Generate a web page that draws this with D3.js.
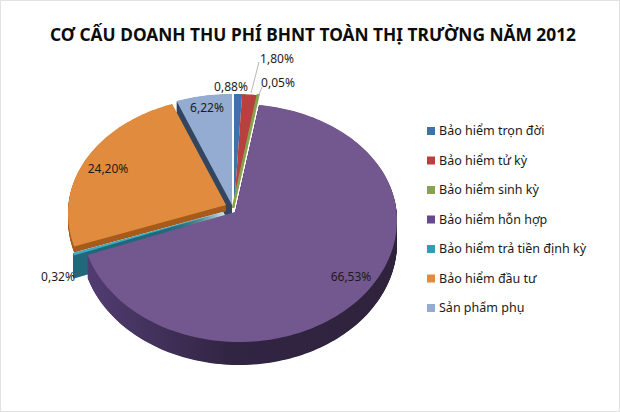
<!DOCTYPE html>
<html>
<head>
<meta charset="utf-8">
<script src="https://cdn.jsdelivr.net/npm/d3@7"></script>
<style>
  html, body { margin: 0; padding: 0; background: #fff; }
  svg { display: block; }
</style>
</head>
<body>
<div id="chart"></div>
<script>
// Data arrays
let categories = ["Bảo hiểm trọn đời", "Bảo hiểm tử kỳ", "Bảo hiểm sinh kỳ", "Bảo hiểm hỗn hợp",
  "Bảo hiểm trả tiền định kỳ", "Bảo hiểm đầu tư", "Sản phẩm phụ"];
let values = [0.88, 1.80, 0.05, 66.53, 0.32, 24.20, 6.22];
let valueLabels = ["0,88%", "1,80%", "0,05%", "66,53%", "0,32%", "24,20%", "6,22%"];
let titleText = "CƠ CẤU DOANH THU PHÍ BHNT TOÀN THỊ TRƯỜNG NĂM 2012";

// Colours
let topColors = ["#3f72ab", "#b8413f", "#87a34e", "#73578f", "#3fa9c0", "#e08b3d", "#94abd2"];
let wallColors = ["#2c4f77", "#80302e", "#5f7336", "url(#purpleWall)", "#22697c", "#a65b1d", "#34465f"];
let legendColors = ["#3f72ab", "#b8413f", "#87a34e", "#654a8c", "#2f9db5", "#e08b3d", "#94abd2"];

// Layout of the exploded 3d pie, one entry per slice: apex of the wedge,
// centre of its rim ellipse and the height of its side wall
let apexX = [234, 234, 233, 235, 230, 226, 232];
let apexY = [208, 208, 208, 212, 210, 205, 205];
let rimX = [236, 236, 236, 239, 223, 226, 231];
let rimY = [210, 210, 210, 220, 215, 213, 210];
let wallDepth = [0, 0, 0, 23, 23, 6, 23];
let rx = 158, ryBack = 116, ryFront = 122;
let drawOrder = [6, 0, 1, 2, 5, 4, 3];

// Where the value labels sit
let labelX = [231, 277, 278, 351, 58, 108, 207];
let labelY = [87, 59, 83, 277, 277, 169, 108];

let width = 620, height = 412;

let svg = d3.select("#chart")
  .append("svg")
  .attr("width", width)
  .attr("height", height);

svg.append("rect")
  .attr("x", 0.5).attr("y", 0.5)
  .attr("width", width - 1).attr("height", height - 1)
  .attr("fill", "#fff")
  .attr("stroke", "#e2e2e2");

let grad = svg.append("defs").append("linearGradient")
  .attr("id", "purpleWall")
  .attr("gradientUnits", "userSpaceOnUse")
  .attr("x1", 85).attr("x2", 400).attr("y1", 0).attr("y2", 0);
grad.append("stop").attr("offset", "0%").attr("stop-color", "#523d72");
grad.append("stop").attr("offset", "45%").attr("stop-color", "#322544");
grad.append("stop").attr("offset", "100%").attr("stop-color", "#2e223c");

svg.append("text")
  .attr("x", 313).attr("y", 41)
  .attr("text-anchor", "middle")
  .attr("textLength", 526)
  .attr("lengthAdjust", "spacingAndGlyphs")
  .attr("font-family", "'Noto Sans', sans-serif")
  .attr("font-weight", "bold")
  .attr("font-size", 17)
  .attr("fill", "#0c0c0c")
  .text(titleText);

// Angles come from d3.pie, clockwise from 12 o'clock
let arcs = d3.pie().sort(null)(values);

// Point on the rim: a ray from the wedge apex hitting the slice's ellipse
function rimPoint(i, angle) {
  let dx = rx * Math.sin(angle), dy = -ryFront * Math.cos(angle);
  let ox = apexX[i] - rimX[i], oy = apexY[i] - rimY[i];
  let hit = function(ry) {
    let a = dx * dx / (rx * rx) + dy * dy / (ry * ry);
    let b = 2 * (ox * dx / (rx * rx) + oy * dy / (ry * ry));
    let c = ox * ox / (rx * rx) + oy * oy / (ry * ry) - 1;
    let t = (-b + Math.sqrt(b * b - 4 * a * c)) / (2 * a);
    return [apexX[i] + t * dx, apexY[i] + t * dy];
  };
  let p = hit(ryFront);
  return p[1] < rimY[i] ? hit(ryBack) : p;
}

function slicePath(i) {
  let d = arcs[i];
  let steps = Math.max(2, Math.ceil((d.endAngle - d.startAngle) * 40));
  let pts = d3.range(steps + 1).map(function(k) {
    return rimPoint(i, d.startAngle + (d.endAngle - d.startAngle) * k / steps);
  });
  return d3.line()([[apexX[i], apexY[i]]].concat(pts)) + "Z";
}

let pie = svg.append("g");

drawOrder.forEach(function(i) {
  let path = slicePath(i);
  // side wall: the slice repeated downwards, half a pixel at a time
  pie.append("g").selectAll("path")
    .data(d3.range(0.5, wallDepth[i] + 0.5, 0.5))
    .enter()
    .append("path")
    .attr("d", path)
    .attr("transform", function(d) { return "translate(0," + d + ")"; })
    .attr("fill", wallColors[i]);
  pie.append("path")
    .attr("d", path)
    .attr("fill", topColors[i])
    .attr("stroke", i == 2 ? topColors[i] : "none") // 0,05% would be invisible otherwise
    .attr("stroke-width", i == 2 ? 2.5 : 0);
});

// Leader lines
let leaders = svg.append("g").attr("fill", "none").attr("stroke", "#a6a6a6").attr("stroke-width", 0.8);
leaders.append("path").attr("d", d3.line()([[259, 62], [251, 93]]));
leaders.append("path").attr("d", d3.line()([[262, 87], [258, 97]]));

// Value labels
svg.append("g").selectAll("text")
  .data(valueLabels)
  .enter()
  .append("text")
  .attr("x", function(d, i) { return labelX[i]; })
  .attr("y", function(d, i) { return labelY[i]; })
  .attr("dy", "0.35em")
  .attr("text-anchor", "middle")
  .attr("font-family", "'Noto Sans', sans-serif")
  .attr("font-size", 12)
  .attr("fill", "#1c1c1c")
  .text(function(d) { return d; });

// Legend
let legendY = d3.scalePoint().domain(categories).range([131, 308]);

let legend = svg.append("g").selectAll("g")
  .data(categories)
  .enter()
  .append("g")
  .attr("transform", function(d) { return "translate(0," + legendY(d) + ")"; });

legend.append("rect")
  .attr("x", 427).attr("y", -4)
  .attr("width", 8).attr("height", 8)
  .attr("fill", function(d, i) { return legendColors[i]; });

legend.append("text")
  .attr("x", 439)
  .attr("dy", "0.35em")
  .attr("font-family", "'Noto Sans', sans-serif")
  .attr("font-size", 12.5)
  .attr("fill", "#1a1a1a")
  .text(function(d) { return d; });
</script>
</body>
</html>
